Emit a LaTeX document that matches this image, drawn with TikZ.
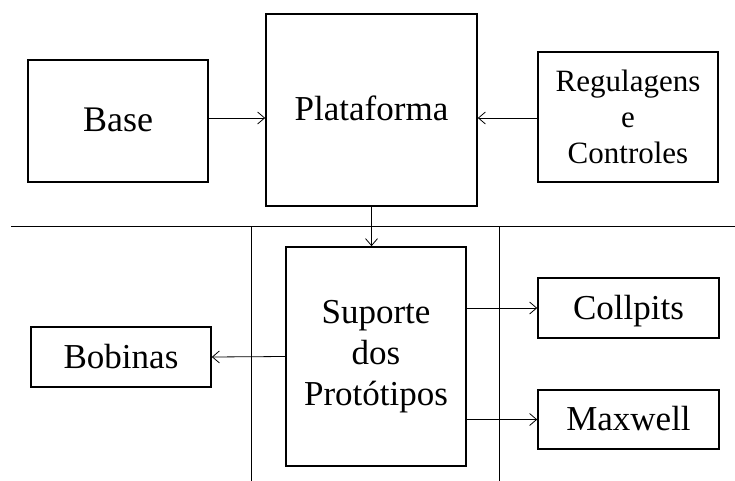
\documentclass[tikz,border=0pt]{standalone}
\usepackage{fontspec}
\setmainfont{Liberation Serif}
\usetikzlibrary{arrows.meta}
\begin{document}
\begin{tikzpicture}[x=1pt,y=-1pt,
  blk/.style={draw,line width=1.6pt,rectangle,inner sep=0pt,align=center,font=\fontsize{35}{40}\selectfont},
  one/.style={text height=23pt,text depth=1pt},
  arr/.style={line width=0.8pt,-{Straight Barb[length=7pt,width=12pt,line width=0.8pt]}},
  sep/.style={line width=0.8pt}]
\useasboundingbox (0,0) rectangle (735,481);
\node[blk,one,minimum width=180pt,minimum height=122pt,font=\fontsize{36}{40}\selectfont] (base) at (118,121) {Base};
\node[blk,one,minimum width=211pt,minimum height=192pt] (plat) at (371.5,110) {Plataforma};
\node[blk,minimum width=180pt,minimum height=130pt,font=\fontsize{31}{36}\selectfont] (reg) at (628,117) {Regulagens\\e\\Controles};
\node[blk,one,minimum width=180pt,minimum height=60pt] (bob) at (121,357) {Bobinas};
\node[blk,minimum width=180pt,minimum height=219pt,font=\fontsize{35}{41}\selectfont] (sup) at (376,356.5) {Suporte\\dos\\Protótipos};
\node[blk,one,minimum width=181pt,minimum height=60pt] (col) at (628.5,308) {Collpits};
\node[blk,one,minimum width=181pt,minimum height=59pt] (max) at (628.5,419.5) {Maxwell};
\coordinate (hl) at (11,226);
\coordinate (hr) at (735,226);
\coordinate (v1t) at (251,226);
\coordinate (v1b) at (251,481);
\coordinate (v2t) at (499,226);
\coordinate (v2b) at (499,481);
\draw[sep] (hl) -- (hr);
\draw[sep] (v1t) -- (v1b);
\draw[sep] (v2t) -- (v2b);
\coordinate (ay) at (0,118);
\draw[arr] (base.east |- ay) -- (plat.west |- ay);
\draw[arr] (reg.west |- ay) -- (plat.east |- ay);
\draw[arr] (plat.south) -- (plat.south |- sup.north);
\draw[arr] (sup.west) -- (bob.east);
\draw[arr] (sup.east |- col) -- (col.west);
\draw[arr] (sup.east |- max) -- (max.west);
\end{tikzpicture}
\end{document}
